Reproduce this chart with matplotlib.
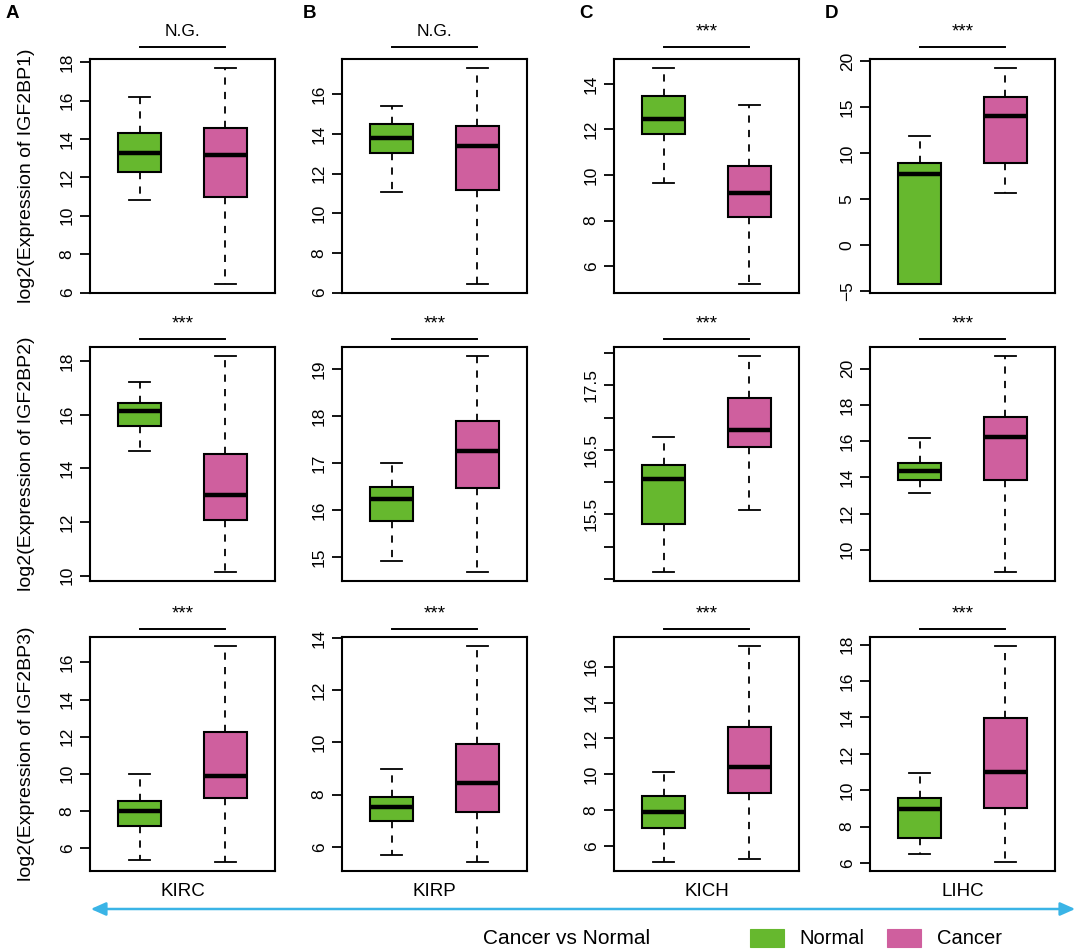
import matplotlib
matplotlib.use("Agg")
import numpy as np
import matplotlib.pyplot as plt
from matplotlib.patches import Rectangle, FancyArrowPatch

plt.rcParams['font.family'] = ['Liberation Sans', 'DejaVu Sans']

genes = ['IGF2BP1', 'IGF2BP2', 'IGF2BP3']
cancers = ['KIRC', 'KIRP', 'KICH', 'LIHC']
panel_letters = ['A', 'B', 'C', 'D']

# [whislo, q1, median, q3, whishi] per cancer type
normal_bp1 = [[10.83, 12.27, 13.25, 14.29, 16.19], [11.05, 13.02, 13.78, 14.49, 15.40],
              [9.65, 11.81, 12.45, 13.47, 14.71], [-4.28, -4.28, 7.75, 8.94, 11.87]]
cancer_bp1 = [[6.43, 11.00, 13.16, 14.55, 17.71], [6.42, 11.15, 13.41, 14.39, 17.34],
              [5.20, 8.17, 9.23, 10.41, 13.05], [5.62, 8.94, 14.03, 16.09, 19.31]]
normal_bp2 = [[14.66, 15.58, 16.13, 16.42, 17.20], [14.93, 15.78, 16.25, 16.49, 17.01],
              [14.60, 15.35, 16.05, 16.26, 16.70], [13.15, 13.83, 14.35, 14.80, 16.16]]
cancer_bp2 = [[10.12, 12.07, 13.00, 14.55, 18.20], [14.68, 16.48, 17.27, 17.89, 19.29],
              [15.56, 16.54, 16.80, 17.30, 17.96], [8.75, 13.83, 16.24, 17.32, 20.72]]
normal_bp3 = [[5.36, 7.20, 7.98, 8.56, 10.00], [5.68, 6.98, 7.53, 7.92, 8.99],
              [5.09, 7.02, 7.87, 8.79, 10.11], [6.47, 7.35, 8.96, 9.56, 10.95]]
cancer_bp3 = [[5.23, 8.72, 9.90, 12.24, 16.90], [5.40, 7.34, 8.43, 9.94, 13.71],
              [5.29, 8.98, 10.39, 12.61, 17.17], [6.03, 9.01, 11.02, 13.96, 17.95]]

normal_stats = [normal_bp1, normal_bp2, normal_bp3]
cancer_stats = [cancer_bp1, cancer_bp2, cancer_bp3]

signif = [['N.G.', 'N.G.', '***', '***'],
          ['***', '***', '***', '***'],
          ['***', '***', '***', '***']]

# y tick steps for each panel
tick_steps = [[2, 2, 2, 5], [2, 1, 0.5, 2], [2, 2, 2, 2]]

green = '#66B82E'
pink = '#CF5F9E'
arrow_blue = '#3AB4E6'

W, H = 1084, 950
fig = plt.figure(figsize=(W / 100, H / 100), dpi=100)

col_left = [90, 342, 614, 870]
row_top = [59, 347, 637]
ax_w, ax_h = 185, 234


def to_dict(s):
    return dict(whislo=s[0], q1=s[1], med=s[2], q3=s[3], whishi=s[4], fliers=[])


for r in range(3):
    for c in range(4):
        ax = fig.add_axes([col_left[c] / W, 1 - (row_top[r] + ax_h) / H, ax_w / W, ax_h / H])
        stats = [to_dict(normal_stats[r][c]), to_dict(cancer_stats[r][c])]
        bp = ax.bxp(stats, positions=[1, 2], widths=0.5, patch_artist=True,
                    showfliers=False, capwidths=0.25,
                    boxprops=dict(linewidth=1.5, edgecolor='black'),
                    medianprops=dict(color='black', linewidth=3.2, solid_capstyle='butt'),
                    whiskerprops=dict(color='black', linewidth=1.3, linestyle=(0, (4, 4))),
                    capprops=dict(color='black', linewidth=1.3))
        for patch, col in zip(bp['boxes'], [green, pink]):
            patch.set_facecolor(col)

        lo = min(normal_stats[r][c][0], cancer_stats[r][c][0])
        hi = max(normal_stats[r][c][4], cancer_stats[r][c][4])
        pad = 0.04 * (hi - lo)
        ax.set_ylim(lo - pad, hi + pad)
        ax.set_xlim(0.42, 2.58)

        step = tick_steps[r][c]
        start = np.ceil((lo - pad) / step) * step
        ticks = np.arange(start, hi + pad + 1e-9, step)
        if step == 0.5:
            labels = ['%g' % t if abs((t - 15.5) % 1) < 1e-6 and 15 < t < 18 else '' for t in ticks]
        else:
            labels = ['%g' % t for t in ticks]
            labels = [l.replace('-', '\u2212') for l in labels]
        ax.set_yticks(ticks, labels, rotation=90, va='center', fontsize=12.5)
        ax.tick_params(axis='y', length=7, width=1.3, pad=4)
        ax.set_xticks([])
        for sp in ax.spines.values():
            sp.set_linewidth(1.5)

        # significance bracket
        off = 12 if r == 0 else 8
        ly = 1 + off / ax_h
        ax.plot([1, 2], [ly, ly], color='black', lw=1.4,
                transform=ax.get_xaxis_transform(), clip_on=False)
        if signif[r][c] == 'N.G.':
            ax.text(1.5, ly + 8 / ax_h, signif[r][c], ha='center', va='bottom',
                    fontsize=12.5, transform=ax.get_xaxis_transform())
        else:
            ax.text(1.5, ly + 7 / ax_h, signif[r][c], ha='center', va='bottom',
                    fontsize=13.5, transform=ax.get_xaxis_transform())

        if r == 2:
            ax.text(0.5, -20 / ax_h, cancers[c], ha='center', va='center',
                    fontsize=13.5, transform=ax.transAxes)

    fig.text(27 / W, 1 - (row_top[r] + ax_h / 2) / H, 'log2(Expression of %s)' % genes[r],
             rotation=90, ha='center', va='center', fontsize=14)

letter_x = [12, 309, 586, 831]
for lx, lt in zip(letter_x, panel_letters):
    fig.text(lx / W, 1 - 14 / H, lt, ha='center', va='center', fontsize=13.5, fontweight='bold')

arrow = FancyArrowPatch((88 / W, 1 - 909 / H), (1078 / W, 1 - 909 / H),
                        transform=fig.transFigure, arrowstyle='<|-|>,head_length=9,head_width=4',
                        color=arrow_blue, lw=1.8, mutation_scale=1)
fig.patches.append(arrow)

ly = 1 - 939 / H
fig.text(483 / W, ly, 'Cancer vs Normal', ha='left', va='center', fontsize=15)
for x0, col, name, tx in [(750, green, 'Normal', 799), (887, pink, 'Cancer', 937)]:
    fig.patches.append(Rectangle((x0 / W, 1 - 947 / H), 34 / W, 18 / H, transform=fig.transFigure,
                                 facecolor=col, edgecolor=col, lw=0.8))
    fig.text(tx / W, ly, name, ha='left', va='center', fontsize=14.5)

fig.savefig('out.png', dpi=100)
